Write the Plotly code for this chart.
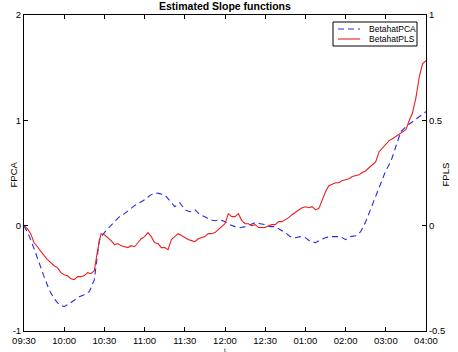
import plotly.graph_objects as go
import numpy as np

tick_labels = ["09:30", "10:00", "10:30", "11:00", "11:30", "12:00", "12:30",
               "01:00", "02:00", "03:00", "04:00"]

# BetahatPCA (left axis, FPCA), sampled every 1/8 of a tick interval
pca_values = [
    0.000, -0.095, -0.218, -0.361, -0.484, -0.608, -0.693, -0.750, -0.769, -0.741,
    -0.703, -0.674, -0.655, -0.627, -0.513, -0.133, -0.066, -0.009, 0.038, 0.085,
    0.114, 0.152, 0.190, 0.218, 0.247, 0.285, 0.313, 0.304, 0.294, 0.237,
    0.180, 0.218, 0.152, 0.133, 0.152, 0.104, 0.085, 0.057, 0.047, 0.057,
    0.038, 0.009, -0.009, -0.019, -0.009, 0.009, 0.028, 0.019, 0.009, -0.009,
    -0.009, -0.038, -0.066, -0.104, -0.114, -0.104, -0.114, -0.152, -0.161, -0.133,
    -0.114, -0.104, -0.104, -0.104, -0.133, -0.104, -0.095, -0.057, 0.038, 0.161,
    0.285, 0.418, 0.522, 0.608, 0.760, 0.893, 0.940, 0.978, 1.007, 1.045,
    1.083,
]

# BetahatPLS (right axis, FPLS), sampled every 1/12 of a tick interval
pls_values = [
    0.000, -0.014, -0.038, -0.081, -0.100, -0.123, -0.142, -0.161, -0.176, -0.190,
    -0.199, -0.223, -0.233, -0.238, -0.252, -0.256, -0.242, -0.242, -0.237, -0.223,
    -0.228, -0.214, -0.114, -0.038, -0.043, -0.057, -0.071, -0.090, -0.085, -0.095,
    -0.100, -0.104, -0.095, -0.100, -0.081, -0.062, -0.052, -0.033, -0.052, -0.081,
    -0.085, -0.104, -0.104, -0.114, -0.066, -0.052, -0.038, -0.047, -0.057, -0.066,
    -0.071, -0.076, -0.062, -0.057, -0.052, -0.038, -0.038, -0.033, -0.019, -0.005,
    0.009, 0.057, 0.043, 0.043, 0.057, 0.024, 0.009, 0.009, 0.000, 0.005,
    -0.009, -0.009, -0.009, 0.000, 0.005, 0.005, 0.019, 0.019, 0.028, 0.038,
    0.052, 0.062, 0.076, 0.085, 0.090, 0.085, 0.090, 0.076, 0.081, 0.123,
    0.161, 0.190, 0.199, 0.204, 0.204, 0.214, 0.218, 0.223, 0.233, 0.237,
    0.242, 0.252, 0.261, 0.275, 0.290, 0.304, 0.351, 0.370, 0.389, 0.404,
    0.413, 0.423, 0.432, 0.442, 0.456, 0.499, 0.537, 0.608, 0.708, 0.769,
    0.783,
]

series_names = ["BetahatPCA", "BetahatPLS"]

n_ticks = len(tick_labels)
pca_x = np.linspace(0, n_ticks - 1, len(pca_values))
pls_x = np.linspace(0, n_ticks - 1, len(pls_values))

FONT = "Liberation Sans, Arial, sans-serif"
BLUE = "rgb(40,40,235)"
RED = "rgb(235,30,30)"
DASH = "6px,4px"

fig = go.Figure()
fig.add_trace(go.Scatter(
    x=pca_x, y=pca_values, mode="lines", name=series_names[0],
    line=dict(color=BLUE, width=1.1, dash=DASH), yaxis="y",
))
fig.add_trace(go.Scatter(
    x=pls_x, y=pls_values, mode="lines", name=series_names[1],
    line=dict(color=RED, width=1.1), yaxis="y2",
))

axis_common = dict(
    showgrid=False, zeroline=False, showline=True, linecolor="black",
    linewidth=1, ticks="inside", ticklen=4, tickcolor="black", automargin=False,
    tickfont=dict(family=FONT, size=9.5, color="black"),
)

# plot area in pixels: x 24..426, y 15..331
PW, PH = 402.0, 316.0
def px(x):
    return (x - 24) / PW
def py(y):
    return (331 - y) / PH

# manual MATLAB-style legend
leg_x0, leg_x1, leg_y0, leg_y1 = 333, 417, 22, 46
shapes = [
    dict(type="rect", xref="paper", yref="paper",
         x0=px(leg_x0), x1=px(leg_x1), y0=py(leg_y1), y1=py(leg_y0),
         line=dict(color="black", width=1), fillcolor="white", layer="above"),
    dict(type="line", xref="paper", yref="paper",
         x0=px(338), x1=px(360), y0=py(29), y1=py(29),
         line=dict(color=BLUE, width=1.1, dash=DASH), layer="above"),
    dict(type="line", xref="paper", yref="paper",
         x0=px(338), x1=px(360), y0=py(39), y1=py(39),
         line=dict(color=RED, width=1.1), layer="above"),
]

annotations = [
    dict(text="<b>Estimated Slope functions</b>", xref="paper", yref="paper",
         x=px(225), y=py(6), showarrow=False, yanchor="middle",
         font=dict(family=FONT, size=10.5, color="black")),
    dict(text="FPCA", xref="paper", yref="paper", x=px(5), y=py(175),
         textangle=-90, showarrow=False,
         font=dict(family=FONT, size=9.5, color="black")),
    dict(text="FPLS", xref="paper", yref="paper", x=px(452), y=py(175),
         textangle=-90, showarrow=False,
         font=dict(family=FONT, size=9.5, color="black")),
    dict(text="t", xref="paper", yref="paper", x=px(225), y=py(350),
         showarrow=False, yanchor="middle",
         font=dict(family=FONT, size=6, color="black")),
    dict(text=series_names[0], xref="paper", yref="paper", x=px(367), y=py(29),
         xanchor="left", yanchor="middle", showarrow=False,
         font=dict(family=FONT, size=8.5, color="black")),
    dict(text=series_names[1], xref="paper", yref="paper", x=px(367), y=py(39),
         xanchor="left", yanchor="middle", showarrow=False,
         font=dict(family=FONT, size=8.5, color="black")),
]

fig.update_layout(
    width=458, height=352,
    margin=dict(l=24, r=32, t=15, b=21, autoexpand=False),
    paper_bgcolor="white", plot_bgcolor="white",
    showlegend=False,
    xaxis=dict(
        range=[0, n_ticks - 1], tickmode="array",
        tickvals=list(range(n_ticks)), ticktext=tick_labels,
        mirror="ticks", ticklabelstandoff=1, **axis_common,
    ),
    yaxis=dict(
        range=[-1, 2], tickmode="array", tickvals=[-1, 0, 1, 2],
        ticktext=["-1", "0", "1", "2"], mirror=True, **axis_common,
    ),
    yaxis2=dict(
        range=[-0.5, 1], tickmode="array", tickvals=[-0.5, 0, 0.5, 1],
        ticktext=["-0.5", "0", "0.5", "1"], overlaying="y", side="right",
        **axis_common,
    ),
    shapes=shapes,
    annotations=annotations,
)

fig.write_html("out.html")
